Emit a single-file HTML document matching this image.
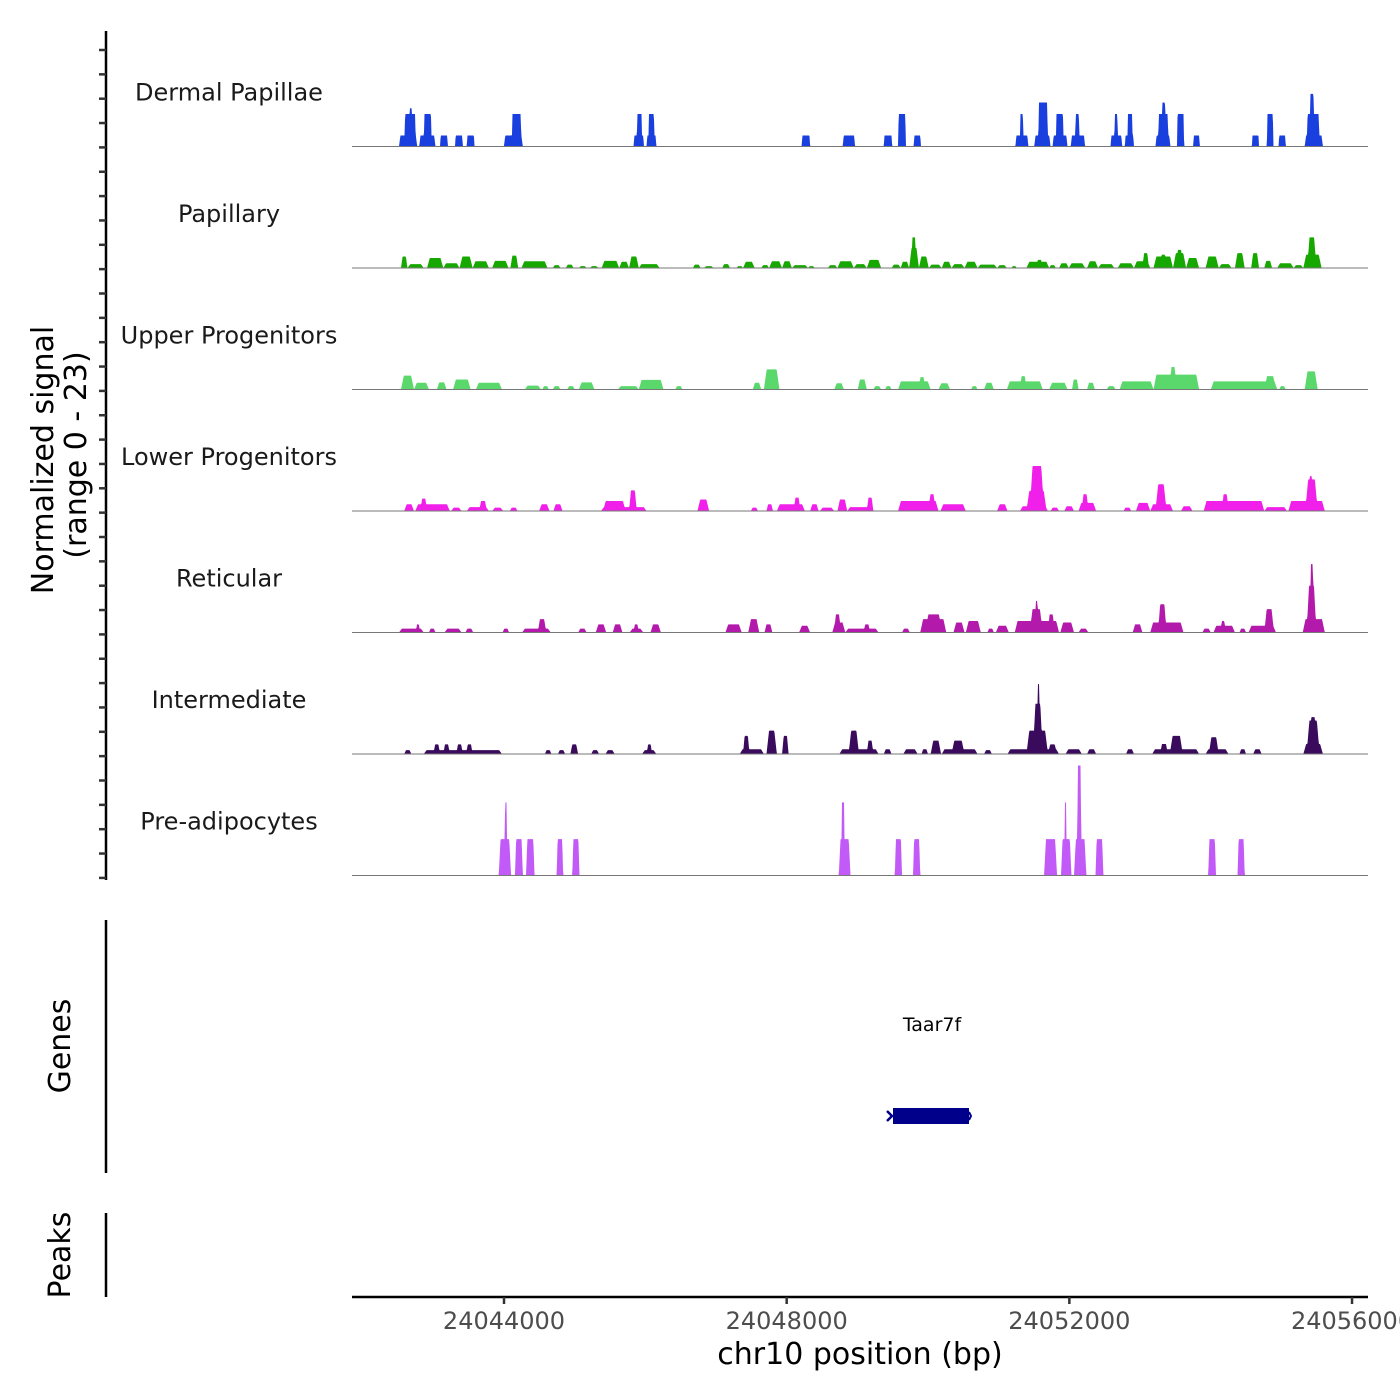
<!DOCTYPE html>
<html><head><meta charset="utf-8"><style>
html,body{margin:0;padding:0;background:#fff;}
svg{display:block;font-family:"DejaVu Sans","Liberation Sans",sans-serif;}
</style></head><body>
<svg id="chart" width="1400" height="1400" viewBox="0 0 1400 1400">
<g id="tracks"></g>
<g>
<line x1="106" y1="31" x2="106" y2="880" stroke="#000" stroke-width="2.5"/>
<g id="yticks"></g>
</g>
<text transform="translate(53,460) rotate(-90)" text-anchor="middle" font-size="30" fill="#000">Normalized signal</text>
<text transform="translate(86,455) rotate(-90)" text-anchor="middle" font-size="30" fill="#000">(range 0 - 23)</text>
<line x1="106" y1="920" x2="106" y2="1173" stroke="#000" stroke-width="2.5"/>
<text transform="translate(70,1046) rotate(-90)" text-anchor="middle" font-size="30" fill="#000">Genes</text>
<line x1="106" y1="1213" x2="106" y2="1297" stroke="#000" stroke-width="2.5"/>
<text transform="translate(70,1255) rotate(-90)" text-anchor="middle" font-size="30" fill="#000">Peaks</text>
<g>
<text x="932" y="1031" text-anchor="middle" font-size="19" fill="#000">Taar7f</text>
<rect x="893" y="1108" width="76" height="16" fill="#00008b"/>
<path d="M887,1111 L892,1116 L887,1121" fill="none" stroke="#00008b" stroke-width="2.5"/>
<path d="M969,1112 L971,1116 L969,1120" fill="none" stroke="#00008b" stroke-width="2"/>
</g>
<g id="xaxis">
<line x1="352" y1="1297" x2="1368" y2="1297" stroke="#000" stroke-width="2.5"/>
</g>
<text x="860" y="1364" text-anchor="middle" font-size="30" fill="#000">chr10 position (bp)</text>
</svg>
<script>
const regionStart = 24041850;
const trackNames = ["Dermal Papillae","Papillary","Upper Progenitors","Lower Progenitors","Reticular","Intermediate","Pre-adipocytes"];
const trackColors = ["#1a3fdf","#17a800","#5bd86c","#f020ea","#b31aab","#3a0b5c","#c25af8"];
const xTickValues = [24044000,24048000,24052000,24056000];
// segments: [startOffset_bp, endOffset_bp, value]
const dermalPapillae = [[664,922,2.3],[738,904,6.8],[811,848,8],[950,1180,2.3],[1014,1125,6.8],[1245,1355,2.3],[1457,1567,2.3],[1623,1733,2.3],[2148,2416,2.3],[2259,2397,6.8],[3983,4131,2.3],[4029,4103,6.8],[4167,4306,2.3],[4195,4278,6.8],[6362,6482,2.3],[6943,7118,2.3],[7524,7643,2.3],[7726,7837,6.8],[7948,8049,2.3],[9386,9570,2.3],[9451,9497,6.8],[9653,9884,2.3],[9709,9847,9.2],[9912,10124,2.3],[9958,10068,6.8],[10170,10373,2.3],[10234,10290,6.8],[10732,10898,2.3],[10787,10834,6.8],[10935,11064,2.3],[10972,11046,6.8],[11368,11580,2.3],[11405,11553,6.8],[11460,11507,9.2],[11673,11774,6.8],[11903,11995,2.3],[12733,12834,2.3],[12945,13037,6.8],[13111,13212,2.3],[13480,13738,2.3],[13507,13692,6.8],[13553,13609,11]];
const papillary = [[692,784,2.4],[784,1014,0.8],[1060,1291,2.1],[1291,1521,1.0],[1521,1706,2.4],[1706,1936,1.4],[1982,2213,1.5],[2240,2351,2.6],[2397,2766,1.4],[2840,2950,0.6],[3024,3135,0.7],[3209,3319,0.4],[3365,3485,0.4],[3531,3780,1.5],[3780,3919,1.3],[3919,4057,2.4],[4057,4352,0.8],[4822,4933,0.7],[4979,5117,0.4],[5237,5348,0.8],[5440,5532,0.4],[5532,5698,1.3],[5790,5901,0.6],[5901,6085,1.4],[6085,6224,1.4],[6224,6454,0.6],[6454,6546,0.4],[6731,6869,0.6],[6869,7099,1.4],[7099,7284,0.8],[7284,7487,1.7],[7634,7763,0.7],[7763,7883,1.3],[7883,8021,4.2],[7911,7985,6.4],[8021,8160,2.4],[8160,8344,0.7],[8344,8482,1.3],[8482,8667,0.8],[8667,8851,1.3],[8851,9128,0.7],[9128,9266,0.6],[9331,9404,0.4],[9543,9865,1.3],[9681,9773,1.7],[9865,9958,0.6],[10004,10142,1.0],[10142,10373,1.0],[10400,10557,1.4],[10557,10787,0.8],[10834,11064,1.0],[11064,11295,1.4],[11184,11276,3.1],[11341,11617,2.4],[11433,11525,2.8],[11617,11802,3.1],[11663,11755,3.8],[11802,11986,2.1],[12078,12263,2.4],[12263,12447,0.8],[12493,12631,3.1],[12723,12834,3.1],[12908,13019,1.5],[13092,13323,1.0],[13323,13461,0.6],[13461,13719,2.8],[13516,13646,6.4]];
const upperProgenitors = [[692,876,2.9],[876,1088,1.4],[1199,1337,1.5],[1429,1678,2.1],[1752,2121,1.4],[2443,2674,0.8],[2692,2784,0.7],[2840,2950,0.7],[3043,3153,0.7],[3209,3430,1.5],[3762,4057,0.7],[4057,4407,2.0],[4573,4675,0.7],[5670,5790,1.4],[5827,6048,4.2],[6823,6961,1.3],[7155,7284,2.1],[7376,7487,0.7],[7542,7634,0.7],[7726,8187,1.7],[8020,8110,2.6],[8298,8464,1.3],[8759,8851,0.7],[8943,9082,1.4],[9266,9773,1.7],[9451,9543,2.8],[9865,10124,1.4],[10188,10280,2.1],[10400,10511,1.4],[10677,10806,0.7],[10861,11341,1.7],[11341,11986,3.1],[11571,11663,4.7],[12152,13092,1.7],[12908,13074,2.8],[13120,13212,0.7],[13480,13664,3.8]];
const lowerProgenitors = [[738,876,1.4],[894,1383,1.4],[968,1060,2.6],[1401,1549,0.7],[1623,1936,0.8],[1798,1908,2.1],[1982,2139,0.7],[2231,2342,0.7],[2646,2794,1.4],[2849,2978,1.4],[3522,4167,0.8],[3550,3872,2.1],[3919,4029,4.3],[4887,5053,2.4],[5643,5744,0.7],[5864,5956,1.4],[6011,6408,1.4],[6251,6343,2.8],[6482,6602,1.4],[6620,6823,0.7],[6869,7007,2.4],[7007,7376,0.8],[7284,7376,2.8],[7726,8298,2.1],[8160,8252,3.5],[8326,8685,1.4],[9128,9275,1.4],[9451,9847,1.0],[9543,9828,4.2],[9589,9792,9.4],[9884,10004,0.7],[10078,10216,1.0],[10280,10529,1.7],[10326,10419,3.5],[10917,11027,0.7],[11092,11295,1.7],[11295,11617,1.4],[11368,11525,5.6],[11728,11894,1.0],[12051,12908,2.1],[12309,12401,3.5],[12908,13231,0.8],[13249,13765,2.1],[13489,13664,6.6],[13540,13590,7.3]];
const reticular = [[664,1014,0.8],[904,959,1.7],[1088,1180,0.8],[1309,1549,0.8],[1604,1715,0.8],[2130,2222,0.8],[2406,2812,0.8],[2628,2748,2.8],[3199,3319,0.8],[3448,3596,1.7],[3688,3826,1.7],[3928,4121,0.8],[3983,4057,1.7],[4223,4370,1.7],[5283,5514,1.7],[5606,5762,2.8],[5836,5947,1.7],[6325,6482,1.4],[6795,6980,2.1],[6823,6915,3.8],[6980,7450,0.8],[7238,7330,1.7],[7782,7893,0.8],[8040,8408,2.8],[8114,8344,3.8],[8510,8667,2.1],[8685,8897,2.4],[8990,9082,0.8],[9109,9294,1.4],[9377,10004,2.4],[9589,9773,4.9],[9663,9709,6.6],[9847,9939,3.8],[10022,10216,2.1],[10280,10419,0.8],[11046,11184,1.7],[11295,11765,2.1],[11405,11525,5.9],[12032,12152,0.8],[12189,12493,1.4],[12290,12360,2.4],[12557,12650,0.8],[12686,13074,1.4],[12908,13046,4.9],[13452,13765,2.8],[13507,13646,9.8],[13553,13609,14.3]];
const intermediate = [[738,839,0.8],[1014,2121,0.8],[1152,1245,2.0],[1291,1383,2.0],[1475,1567,2.0],[1614,1706,2.0],[2729,2821,0.8],[2913,3015,0.8],[3089,3199,2.0],[3384,3494,0.8],[3587,3716,0.8],[4103,4306,0.8],[4170,4245,2.0],[5486,5827,1.0],[5532,5624,3.8],[5864,6011,4.9],[6085,6177,3.8],[6896,7450,1.0],[7026,7173,4.9],[7284,7376,2.8],[7524,7634,1.0],[7800,8003,1.0],[8058,8150,1.0],[8187,8335,2.8],[8344,8851,1.0],[8482,8667,2.8],[8943,9054,0.8],[9275,10004,1.0],[9543,9847,4.9],[9635,9773,10.5],[9695,9730,14.6],[9847,9975,2.0],[10096,10326,1.0],[10400,10529,1.0],[10953,11064,1.0],[11322,11986,1.0],[11433,11545,2.1],[11571,11755,3.8],[12078,12401,1.0],[12124,12263,3.5],[12557,12650,1.0],[12751,12871,1.0],[13461,13738,2.1],[13507,13692,7.0],[13553,13646,7.7]];
const preAdipocytes = [[2075,2250,7.6],[2160,2192,15.3],[2305,2416,7.6],[2462,2582,7.6],[2895,2987,7.6],[3116,3218,7.6],[6887,7053,7.6],[6926,6968,15.3],[7680,7782,7.6],[7938,8040,7.6],[9792,9976,7.6],[10032,10179,7.6],[10079,10112,15.3],[10216,10391,7.6],[10260,10320,23],[10520,10631,7.6],[12115,12225,7.6],[12530,12631,7.6]];
const trackData = [dermalPapillae,papillary,upperProgenitors,lowerProgenitors,reticular,intermediate,preAdipocytes];
const ramps = [0.08,0.25,0.25,0.25,0.25,0.25,0.15];
const rampCaps = [20,40,40,40,40,40,40];
const yMax = 23;

const NS = "http://www.w3.org/2000/svg";
const plotLeft = 352, plotRight = 1368;
const bpMin = 24041849, bpMax = 24056226;
function xScale(bp){ return plotLeft + (bp - bpMin) / (bpMax - bpMin) * (plotRight - plotLeft); }
function xInv(px){ return bpMin + (px - plotLeft) / (plotRight - plotLeft) * (bpMax - bpMin); }
const trackTop = 25, trackH = 121.5;
function baseline(i){ return trackTop + (i + 1) * trackH; }
function yScale(v, i){ return baseline(i) - v / yMax * 110; }

function valueAt(segs, p, ramp, cap){
  let m = 0;
  for (const s of segs){
    const a = regionStart + s[0], b = regionStart + s[1];
    if (p < a || p > b) continue;
    const r = Math.max(1, Math.min((b - a) * ramp, cap));
    const f = Math.min(1, (p - a) / r, (b - p) / r);
    const v = s[2] * f;
    if (v > m) m = v;
  }
  return m;
}

const tracksG = document.getElementById('tracks');
trackData.forEach((segs, i) => {
  const g = document.createElementNS(NS, 'g');
  
  
  tracksG.appendChild(g);
  let d = 'M' + plotLeft + ',' + baseline(i);
  for (let px = plotLeft; px <= plotRight; px += 0.5){
    const v = valueAt(segs, xInv(px), ramps[i], rampCaps[i]);
    d += ' L' + px + ',' + yScale(v, i).toFixed(2);
  }
  d += ' L' + plotRight + ',' + baseline(i) + ' Z';
  const area = document.createElementNS(NS, 'path');
  area.setAttribute('d', d);
  area.setAttribute('fill', trackColors[i]);
  
  
  g.appendChild(area);
  const bl = document.createElementNS(NS, 'line');
  bl.setAttribute('x1', plotLeft); bl.setAttribute('x2', plotRight);
  bl.setAttribute('y1', baseline(i)); bl.setAttribute('y2', baseline(i));
  bl.setAttribute('stroke', '#777'); bl.setAttribute('stroke-width', '1');
  
  
  g.appendChild(bl);
  const lab = document.createElementNS(NS, 'text');
  lab.setAttribute('x', 229);
  lab.setAttribute('y', baseline(i) - 46);
  lab.setAttribute('text-anchor', 'middle');
  lab.setAttribute('font-size', '24');
  lab.setAttribute('fill', '#1a1a1a');
  lab.textContent = trackNames[i];
  
  
  g.appendChild(lab);
});

const yt = document.getElementById('yticks');
for (let k = 0; k < 35; k++){
  const y = 50 + k * 24.35;
  const t = document.createElementNS(NS, 'line');
  t.setAttribute('x1', 99); t.setAttribute('x2', 106);
  t.setAttribute('y1', y); t.setAttribute('y2', y);
  t.setAttribute('stroke', '#333'); t.setAttribute('stroke-width', '2.5');
  
  
  yt.appendChild(t);
}

const xa = document.getElementById('xaxis');
xTickValues.forEach(v => {
  const x = xScale(v);
  const t = document.createElementNS(NS, 'line');
  t.setAttribute('x1', x); t.setAttribute('x2', x);
  t.setAttribute('y1', 1297); t.setAttribute('y2', 1304);
  t.setAttribute('stroke', '#333'); t.setAttribute('stroke-width', '2.5');
  
  
  xa.appendChild(t);
  const l = document.createElementNS(NS, 'text');
  l.setAttribute('x', x); l.setAttribute('y', 1329);
  l.setAttribute('text-anchor', 'middle');
  l.setAttribute('font-size', '24');
  l.setAttribute('fill', '#4d4d4d');
  l.textContent = v;
  
  
  xa.appendChild(l);
});
</script>
</body></html>
